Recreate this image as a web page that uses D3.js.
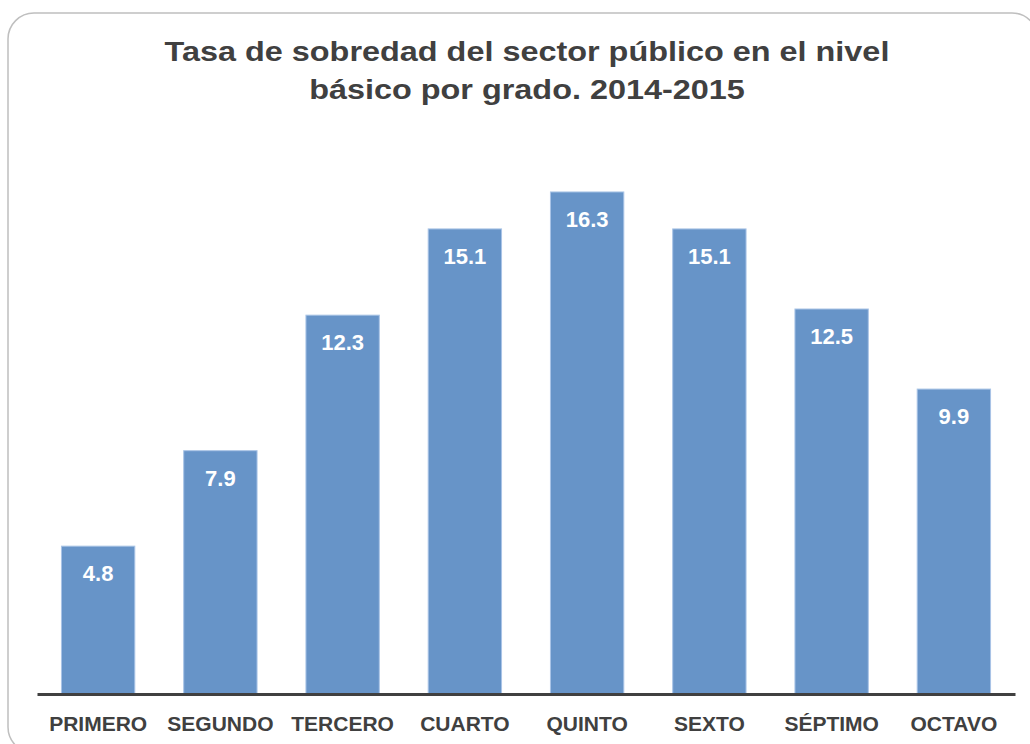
<!DOCTYPE html>
<html>
<head>
<meta charset="utf-8">
<script src="https://cdn.jsdelivr.net/npm/d3@7"></script>
<style>
  body { margin: 0; background: #fff; }
  svg { display: block; font-family: "Liberation Sans", Arial, sans-serif; }
</style>
</head>
<body>
<svg id="chart" width="1030" height="744"></svg>
<script>
// chart data
const grades = ["PRIMERO", "SEGUNDO", "TERCERO", "CUARTO", "QUINTO", "SEXTO", "SÉPTIMO", "OCTAVO"];
const rates = [4.8, 7.9, 12.3, 15.1, 16.3, 15.1, 12.5, 9.9];
const titleLines = ["Tasa de sobredad del sector público en el nivel", "básico por grado. 2014-2015"];

const svg = d3.select("#chart");
const baseY = 694;

// panel border
svg.append("rect")
    .attr("x", 8).attr("y", 13)
    .attr("width", 1030).attr("height", 740)
    .attr("rx", 26)
    .attr("fill", "#fff")
    .attr("stroke", "#bfbfbf")
    .attr("stroke-width", 1.5);

// title (reference text is a bit wider than the font renders, so stretch it)
svg.append("text")
    .attr("transform", "translate(527,0) scale(1.2,1)")
    .attr("text-anchor", "middle")
    .attr("font-size", 27)
    .attr("font-weight", "bold")
    .attr("fill", "#404040")
    .selectAll("tspan")
    .data(titleLines)
    .enter().append("tspan")
    .attr("x", 0)
    .attr("y", (d, i) => 61 + i * 38)
    .text(d => d);

const x = d3.scaleBand()
    .domain(grades)
    .range([37, 1015])
    .paddingInner(0.4)
    .paddingOuter(0.2);

const y = d3.scaleLinear()
    .domain([0, 20])
    .range([baseY, baseY - 616]);

const data = grades.map((g, i) => ({ grade: g, value: rates[i] }));

// bars
svg.selectAll(".bar")
    .data(data)
    .enter().append("rect")
    .attr("class", "bar")
    .attr("x", d => x(d.grade))
    .attr("y", d => y(d.value))
    .attr("width", x.bandwidth())
    .attr("height", d => baseY - y(d.value))
    .attr("fill", "#6794c8")
    .attr("stroke", "#a9c4e6")
    .attr("stroke-width", 1);

// value labels inside bars
svg.selectAll(".val")
    .data(data)
    .enter().append("text")
    .attr("class", "val")
    .attr("x", d => x(d.grade) + x.bandwidth() / 2)
    .attr("y", d => y(d.value) + 35)
    .attr("text-anchor", "middle")
    .attr("font-size", 22)
    .attr("font-weight", "bold")
    .attr("fill", "#fff")
    .text(d => d.value.toFixed(1));

// x axis
const xAxis = svg.append("g")
    .attr("transform", `translate(0,${baseY})`)
    .call(d3.axisBottom(x).tickSize(0).tickPadding(22));

xAxis.select(".domain")
    .attr("stroke", "#404040")
    .attr("stroke-width", 3);

xAxis.selectAll(".tick text")
    .attr("font-family", "Liberation Sans, Arial, sans-serif")
    .attr("font-size", 21)
    .attr("font-weight", "bold")
    .attr("fill", "#404040");
</script>
</body>
</html>
